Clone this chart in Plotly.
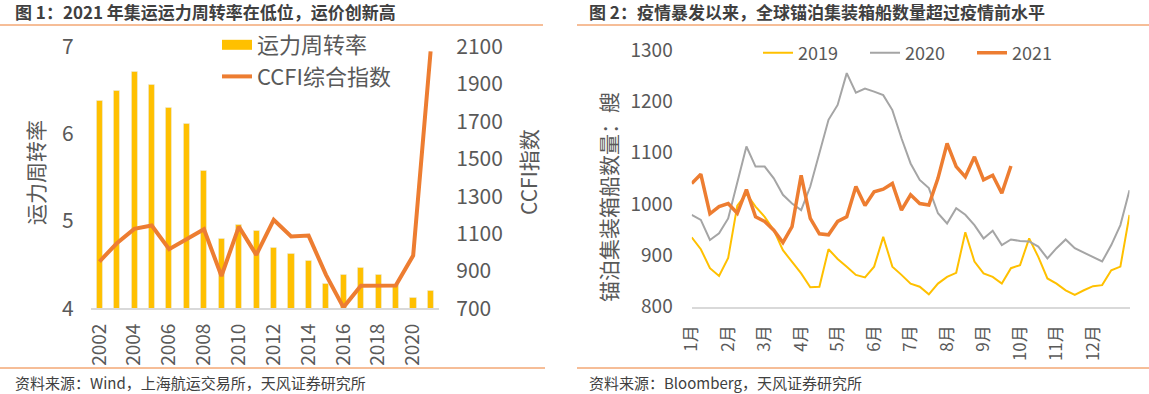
import plotly.graph_objects as go

W, H = 1149, 394
FONT = "Noto Sans CJK SC"
GRAY = "#595959"
DARK = "#404040"
ORANGE = "#ED7D31"
GOLD = "#FFC000"
SILVER = "#A5A5A5"

# ---------------- Figure 1 data ----------------
years = [2002, 2003, 2004, 2005, 2006, 2007, 2008, 2009, 2010, 2011,
         2012, 2013, 2014, 2015, 2016, 2017, 2018, 2019, 2020, 2021]
turnover = [6.38, 6.50, 6.71, 6.57, 6.30, 6.12, 5.58, 4.80, 4.96, 4.89,
            4.69, 4.63, 4.55, 4.28, 4.39, 4.47, 4.38, 4.27, 4.12, 4.20]
ccfi = [950, 1048, 1125, 1143, 1016, 1070, 1123, 873, 1137, 986,
        1173, 1084, 1089, 879, 705, 821, 821, 822, 982, 2075]
year_ticks = [2002, 2004, 2006, 2008, 2010, 2012, 2014, 2016, 2018, 2020]

# ---------------- Figure 2 data (weekly samples, in months from 1 Jan) ----------------
month_labels = ["1月", "2月", "3月", "4月", "5月", "6月",
                "7月", "8月", "9月", "10月", "11月", "12月"]
ships_2019 = [935, 912, 875, 860, 895, 997, 1020, 995, 975, 949, 910, 888,
              865, 838, 839, 912, 893, 878, 862, 857, 878, 936, 878, 862,
              845, 839, 824, 845, 858, 866, 945, 888, 865, 858, 845, 875,
              881, 933, 897, 855, 845, 832, 823, 832, 840, 842, 871, 878, 979]
ships_2020 = [979, 969, 930, 943, 972, 1044, 1112, 1073, 1073, 1050, 1018, 1001,
              988, 1034, 1099, 1164, 1193, 1255, 1217, 1225, 1219, 1212, 1183, 1128,
              1079, 1047, 1031, 982, 962, 992, 979, 959, 933, 948, 920, 931,
              928, 927, 917, 894, 914, 931, 914, 905, 896, 888, 920, 959, 1027]
ships_2021 = [1040, 1058, 981, 995, 1001, 982, 1028, 975, 966, 949, 925, 956,
              1056, 972, 942, 940, 966, 975, 1034, 997, 1024, 1029, 1040, 988,
              1018, 1001, 998, 1050, 1118, 1073, 1053, 1092, 1047, 1056, 1021, 1074]

def week_pos(n):
    return [i / 4 for i in range(n)]

fig = go.Figure()

# Figure 1 traces
fig.add_trace(go.Bar(x=years, y=turnover, marker_color=GOLD, width=0.35,
                     xaxis="x", yaxis="y", showlegend=False, name="运力周转率"))
fig.add_trace(go.Scatter(x=[None], y=[None], mode="lines", name="运力周转率",
                         line=dict(color=GOLD, width=11), xaxis="x", yaxis="y",
                         legend="legend", legendgroup="a"))
fig.add_trace(go.Scatter(x=years, y=ccfi, mode="lines", name="CCFI综合指数",
                         line=dict(color=ORANGE, width=4), xaxis="x", yaxis="y2",
                         legend="legend", legendgroup="b"))

# Figure 2 traces
fig.add_trace(go.Scatter(x=week_pos(len(ships_2019)), y=ships_2019, mode="lines", name="2019",
                         line=dict(color=GOLD, width=2), xaxis="x2", yaxis="y3", legend="legend2"))
fig.add_trace(go.Scatter(x=week_pos(len(ships_2020)), y=ships_2020, mode="lines", name="2020",
                         line=dict(color=SILVER, width=2), xaxis="x2", yaxis="y3", legend="legend2"))
fig.add_trace(go.Scatter(x=week_pos(len(ships_2021)), y=ships_2021, mode="lines", name="2021",
                         line=dict(color=ORANGE, width=3.5), xaxis="x2", yaxis="y3", legend="legend2"))

def px_x(p):
    return p / W

def px_y(p):
    return 1 - p / H

axis_common = dict(showgrid=False, zeroline=False, ticks="", fixedrange=True, automargin=False)

fig.update_layout(
    width=W, height=H,
    margin=dict(l=0, r=0, t=0, b=0, autoexpand=False),
    paper_bgcolor="white", plot_bgcolor="rgba(0,0,0,0)",
    font=dict(family=FONT, color=GRAY),
    bargap=0,
    xaxis=dict(domain=[px_x(90.7), px_x(439.3)], range=[2001.5, 2021.5], anchor="y",
               tickmode="array", tickvals=year_ticks, tickangle=-90,
               tickfont=dict(size=19, color=GRAY), showline=True, linecolor="#D9D9D9",
               linewidth=1.5, ticklabelstandoff=6, **axis_common),
    yaxis=dict(domain=[px_y(308.3), px_y(46.7)], range=[4, 7], dtick=1, anchor="x",
               tickfont=dict(size=21, color=GRAY), ticklabelstandoff=16, **axis_common),
    yaxis2=dict(overlaying="y", side="right", range=[700, 2100], tick0=700, dtick=200, anchor="x",
                tickfont=dict(size=21, color=GRAY), ticklabelstandoff=16, **axis_common),
    xaxis2=dict(domain=[px_x(691.7), px_x(1129.5)], range=[0, 12], anchor="y3",
                tickmode="array", tickvals=list(range(12)), ticktext=month_labels,
                tickangle=-90, tickfont=dict(size=17, color=GRAY), showline=True,
                linecolor="#D9D9D9", linewidth=1.5, ticklabelstandoff=10, **axis_common),
    yaxis3=dict(domain=[px_y(306.7), px_y(50)], range=[800, 1300], dtick=100, anchor="x2",
                tickfont=dict(size=19, color=GRAY), ticklabelstandoff=18, **axis_common),
    legend=dict(x=px_x(217), y=px_y(24), xanchor="left", yanchor="top",
                font=dict(size=22, color=GRAY), bgcolor="rgba(0,0,0,0)",
                tracegroupgap=7, itemwidth=30, traceorder="normal"),
    legend2=dict(orientation="h", x=px_x(758), y=px_y(53), xanchor="left", yanchor="middle",
                 font=dict(size=18, color=GRAY), bgcolor="rgba(0,0,0,0)", itemwidth=30,
                 entrywidth=62, entrywidthmode="pixels"),
)

shapes = [
    dict(type="line", xref="paper", yref="paper", x0=0, x1=px_x(543), y0=px_y(25), y1=px_y(25),
         line=dict(color=ORANGE, width=1)),
    dict(type="line", xref="paper", yref="paper", x0=px_x(577), x1=1, y0=px_y(25), y1=px_y(25),
         line=dict(color=ORANGE, width=1)),
    dict(type="line", xref="paper", yref="paper", x0=0, x1=px_x(545), y0=px_y(368), y1=px_y(368),
         line=dict(color=ORANGE, width=1)),
    dict(type="line", xref="paper", yref="paper", x0=px_x(577), x1=1, y0=px_y(368), y1=px_y(368),
         line=dict(color=ORANGE, width=1)),
]

annotations = [
    dict(text="<b>图 1：2021 年集运运力周转率在低位，运价创新高</b>", x=px_x(13), y=px_y(12),
         xanchor="left", yanchor="middle", font=dict(size=17, color=DARK)),
    dict(text="<b>图 2：疫情暴发以来，全球锚泊集装箱船数量超过疫情前水平</b>", x=px_x(587), y=px_y(12),
         xanchor="left", yanchor="middle", font=dict(size=17, color=DARK)),
    dict(text="资料来源：Wind，上海航运交易所，天风证券研究所", x=px_x(13), y=px_y(382),
         xanchor="left", yanchor="middle", font=dict(size=15, color=DARK)),
    dict(text="资料来源：Bloomberg，天风证券研究所", x=px_x(587), y=px_y(382),
         xanchor="left", yanchor="middle", font=dict(size=15, color=DARK)),
    dict(text="运力周转率", x=px_x(35), y=px_y(173), textangle=-90,
         xanchor="center", yanchor="middle", font=dict(size=21, color=GRAY)),
    dict(text="CCFI指数", x=px_x(528), y=px_y(172), textangle=-90,
         xanchor="center", yanchor="middle", font=dict(size=21, color=GRAY)),
    dict(text="锚泊集装箱船数量：艘", x=px_x(608), y=px_y(197), textangle=-90,
         xanchor="center", yanchor="middle", font=dict(size=21, color=GRAY)),
]
for a in annotations:
    a.update(xref="paper", yref="paper", showarrow=False)

fig.update_layout(shapes=shapes, annotations=annotations)
fig.write_html("out.html", config={"displayModeBar": False},
               post_script="document.body.style.margin='0';document.body.style.overflow='hidden';")
